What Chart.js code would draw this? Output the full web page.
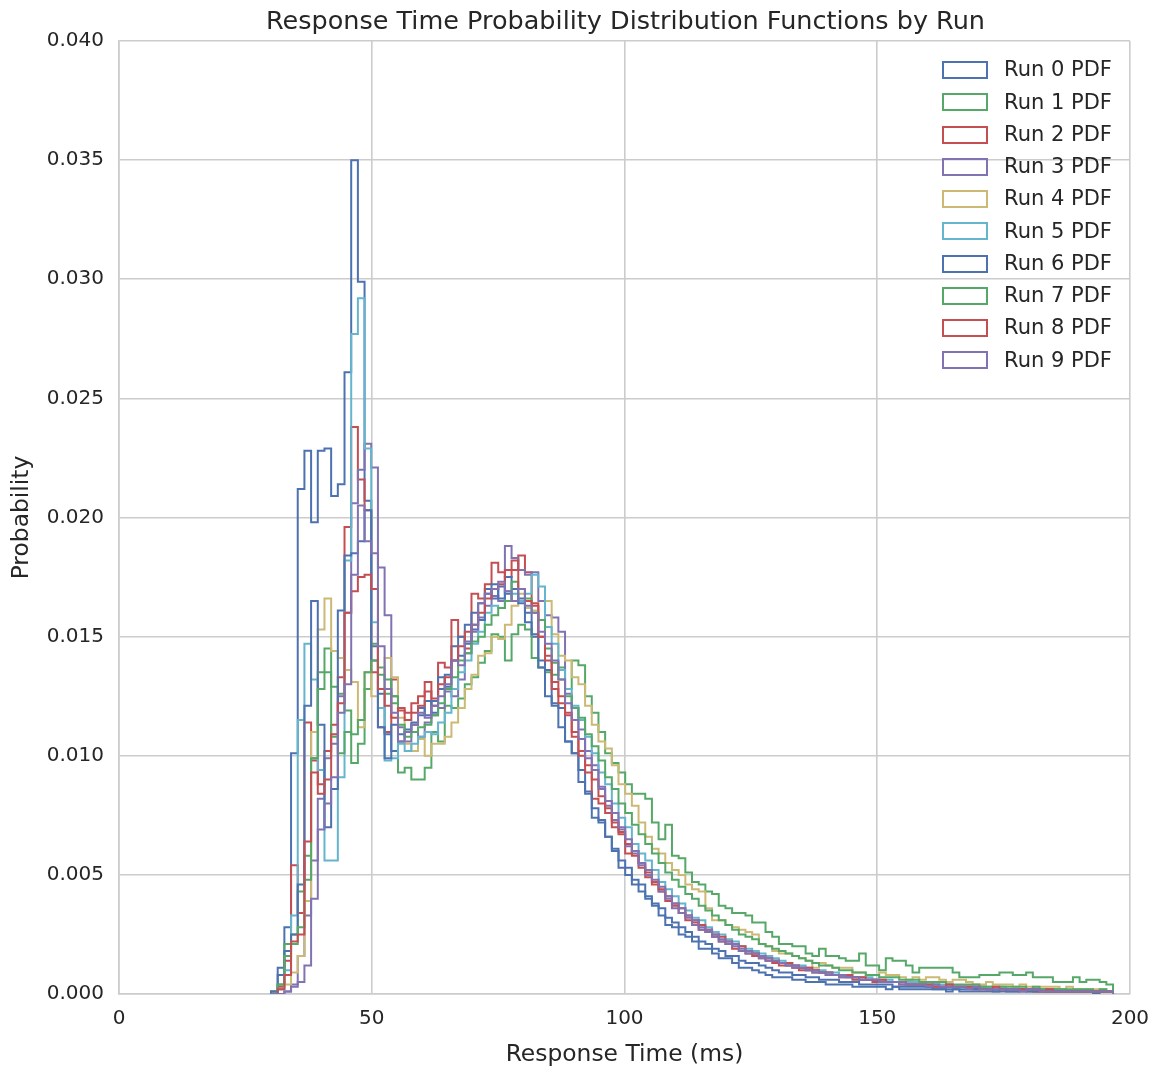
<!DOCTYPE html>
<html>
<head>
<meta charset="utf-8">
<script src="https://cdn.jsdelivr.net/npm/chart.js@4.4.0/dist/chart.umd.min.js"></script>
<style>html,body{margin:0;padding:0;background:#fff;}canvas{display:block;}</style>
</head>
<body>
<canvas id="c" width="1163" height="1069"></canvas>
<script>
// ---- data ----
const TITLE = "Response Time Probability Distribution Functions by Run";
const X_LABEL = "Response Time (ms)";
const Y_LABEL = "Probability";
const BIN_START = 30.07;   // ms, left edge of first bin
const BIN_WIDTH = 1.322;   // ms
const RUN_LABELS = ["Run 0 PDF","Run 1 PDF","Run 2 PDF","Run 3 PDF","Run 4 PDF","Run 5 PDF","Run 6 PDF","Run 7 PDF","Run 8 PDF","Run 9 PDF"];
const RUN_COLORS = ["#4C72B0","#55A868","#C44E52","#8172B2","#CCB974","#64B5CD","#4C72B0","#55A868","#C44E52","#8172B2"];

const run0 = [
0.0001,0.0011,0.0028,0.0101,0.0212,0.0228,0.0198,0.0228,0.0229,0.0209,
0.0214,0.0261,0.0350,0.0299,0.0207,0.0146,0.0126,0.0109,0.0102,0.0106,
0.0110,0.0114,0.0117,0.0123,0.0118,0.0128,0.0134,0.0146,0.0142,0.0155,
0.0153,0.0164,0.0170,0.0166,0.0171,0.0168,0.0165,0.0166,0.0160,0.0150,
0.0140,0.0136,0.0122,0.0120,0.0106,0.0101,0.0094,0.0085,0.0078,0.0073,
0.0066,0.0060,0.0053,0.0050,0.0046,0.0043,0.0040,0.0037,0.0033,0.0029,
0.0028,0.0025,0.0024,0.0022,0.0019,0.0019,0.0017,0.0015,0.0015,0.0013,
0.0011,0.0011,0.0010,0.0009,0.0008,0.0007,0.0007,0.0007,0.0006,0.0006,
0.0005,0.0005,0.0005,0.0004,0.0004,0.0004,0.0004,0.0003,0.0003,0.0003,
0.0003,0.0003,0.0002,0.0003,0.0002,0.0002,0.0002,0.0002,0.0002,0.0002,
0.0002,0.0001,0.0002,0.0001,0.0001,0.0001,0.0001,0.0001,0.0001,0.0001,
0.0001,0.0001,0.0001,0.0001,0.0001,0.0001,0.0001,0.0001,0.0001,0.0001,
0.0001,0.0001,0.0001,0.0000,0.0001,0.0001];

const run1 = [
0.0001,0.0004,0.0021,0.0025,0.0043,0.0058,0.0099,0.0135,0.0145,0.0129,
0.0126,0.0119,0.0097,0.0105,0.0128,0.0147,0.0137,0.0126,0.0122,0.0093,
0.0095,0.0090,0.0090,0.0095,0.0110,0.0106,0.0121,0.0120,0.0124,0.0130,
0.0133,0.0139,0.0144,0.0151,0.0150,0.0140,0.0151,0.0155,0.0153,0.0141,
0.0137,0.0135,0.0134,0.0137,0.0128,0.0140,0.0138,0.0125,0.0118,0.0110,
0.0101,0.0097,0.0093,0.0088,0.0084,0.0084,0.0082,0.0072,0.0065,0.0071,
0.0058,0.0057,0.0051,0.0047,0.0046,0.0043,0.0042,0.0037,0.0036,0.0034,
0.0034,0.0033,0.0030,0.0030,0.0026,0.0024,0.0021,0.0021,0.0020,0.0020,
0.0017,0.0016,0.0019,0.0016,0.0016,0.0015,0.0014,0.0014,0.0017,0.0012,
0.0012,0.0010,0.0015,0.0014,0.0014,0.0012,0.0009,0.0011,0.0011,0.0011,
0.0011,0.0011,0.0009,0.0007,0.0007,0.0007,0.0008,0.0008,0.0008,0.0009,
0.0009,0.0008,0.0008,0.0009,0.0007,0.0007,0.0007,0.0005,0.0005,0.0005,
0.0007,0.0005,0.0006,0.0006,0.0005,0.0004];

const run2 = [
0.0000,0.0003,0.0014,0.0054,0.0034,0.0114,0.0098,0.0088,0.0102,0.0113,
0.0133,0.0196,0.0238,0.0216,0.0203,0.0135,0.0112,0.0110,0.0132,0.0119,
0.0118,0.0122,0.0125,0.0131,0.0121,0.0139,0.0137,0.0157,0.0150,0.0145,
0.0168,0.0166,0.0172,0.0181,0.0177,0.0175,0.0178,0.0184,0.0177,0.0164,
0.0150,0.0142,0.0128,0.0125,0.0118,0.0110,0.0102,0.0093,0.0082,0.0080,
0.0076,0.0070,0.0068,0.0059,0.0060,0.0053,0.0049,0.0046,0.0043,0.0039,
0.0037,0.0034,0.0031,0.0030,0.0027,0.0026,0.0024,0.0022,0.0021,0.0019,
0.0018,0.0017,0.0016,0.0015,0.0014,0.0013,0.0012,0.0012,0.0011,0.0010,
0.0010,0.0009,0.0009,0.0008,0.0008,0.0007,0.0007,0.0006,0.0006,0.0006,
0.0005,0.0005,0.0005,0.0005,0.0004,0.0004,0.0004,0.0004,0.0003,0.0004,
0.0003,0.0003,0.0003,0.0003,0.0003,0.0002,0.0003,0.0002,0.0002,0.0002,
0.0002,0.0002,0.0002,0.0002,0.0001,0.0002,0.0001,0.0001,0.0002,0.0001,
0.0001,0.0001,0.0001,0.0001,0.0001,0.0001];

const run3 = [
0.0000,0.0000,0.0001,0.0004,0.0016,0.0033,0.0056,0.0082,0.0099,0.0105,
0.0125,0.0160,0.0206,0.0220,0.0231,0.0221,0.0179,0.0159,0.0125,0.0112,
0.0106,0.0110,0.0108,0.0114,0.0117,0.0120,0.0127,0.0125,0.0132,0.0143,
0.0152,0.0158,0.0163,0.0167,0.0165,0.0188,0.0183,0.0178,0.0176,0.0177,
0.0165,0.0159,0.0158,0.0152,0.0126,0.0120,0.0111,0.0102,0.0096,0.0087,
0.0079,0.0073,0.0069,0.0062,0.0059,0.0054,0.0050,0.0047,0.0043,0.0040,
0.0036,0.0034,0.0032,0.0029,0.0027,0.0026,0.0024,0.0022,0.0021,0.0020,
0.0018,0.0017,0.0017,0.0015,0.0014,0.0014,0.0013,0.0012,0.0011,0.0011,
0.0010,0.0009,0.0009,0.0008,0.0008,0.0007,0.0007,0.0007,0.0006,0.0006,
0.0006,0.0005,0.0005,0.0005,0.0004,0.0004,0.0004,0.0004,0.0004,0.0003,
0.0003,0.0003,0.0003,0.0003,0.0003,0.0002,0.0003,0.0002,0.0002,0.0002,
0.0002,0.0002,0.0002,0.0002,0.0002,0.0002,0.0001,0.0002,0.0001,0.0001,
0.0001,0.0001,0.0001,0.0001,0.0001,0.0001];

const run4 = [
0.0000,0.0002,0.0004,0.0009,0.0016,0.0039,0.0110,0.0153,0.0166,0.0144,
0.0141,0.0136,0.0131,0.0112,0.0135,0.0125,0.0128,0.0141,0.0133,0.0116,
0.0105,0.0102,0.0107,0.0100,0.0105,0.0105,0.0108,0.0114,0.0120,0.0128,
0.0134,0.0142,0.0143,0.0150,0.0149,0.0155,0.0163,0.0168,0.0162,0.0161,
0.0157,0.0165,0.0151,0.0142,0.0140,0.0133,0.0130,0.0121,0.0113,0.0106,
0.0103,0.0096,0.0088,0.0084,0.0079,0.0072,0.0066,0.0061,0.0059,0.0055,
0.0052,0.0050,0.0046,0.0044,0.0043,0.0036,0.0031,0.0031,0.0029,0.0028,
0.0027,0.0026,0.0025,0.0021,0.0020,0.0018,0.0017,0.0017,0.0016,0.0015,
0.0014,0.0011,0.0013,0.0012,0.0011,0.0011,0.0011,0.0009,0.0009,0.0008,
0.0008,0.0009,0.0008,0.0008,0.0007,0.0006,0.0007,0.0006,0.0007,0.0007,
0.0006,0.0005,0.0006,0.0006,0.0005,0.0004,0.0004,0.0005,0.0004,0.0004,
0.0004,0.0003,0.0004,0.0003,0.0003,0.0003,0.0003,0.0003,0.0002,0.0003,
0.0002,0.0002,0.0002,0.0002,0.0002,0.0001];

const run5 = [
0.0000,0.0002,0.0010,0.0033,0.0115,0.0147,0.0132,0.0094,0.0056,0.0056,
0.0091,0.0182,0.0277,0.0292,0.0229,0.0156,0.0120,0.0098,0.0099,0.0105,
0.0102,0.0105,0.0108,0.0110,0.0109,0.0114,0.0118,0.0128,0.0135,0.0140,
0.0147,0.0152,0.0160,0.0163,0.0162,0.0169,0.0168,0.0165,0.0168,0.0176,
0.0171,0.0154,0.0147,0.0136,0.0128,0.0121,0.0115,0.0108,0.0101,0.0093,
0.0088,0.0080,0.0074,0.0070,0.0063,0.0059,0.0056,0.0052,0.0047,0.0044,
0.0041,0.0038,0.0035,0.0032,0.0031,0.0028,0.0026,0.0025,0.0023,0.0022,
0.0020,0.0019,0.0018,0.0017,0.0016,0.0015,0.0014,0.0013,0.0012,0.0012,
0.0011,0.0010,0.0010,0.0009,0.0009,0.0008,0.0008,0.0007,0.0007,0.0007,
0.0006,0.0006,0.0006,0.0005,0.0005,0.0005,0.0005,0.0004,0.0004,0.0004,
0.0004,0.0004,0.0003,0.0003,0.0003,0.0003,0.0003,0.0003,0.0002,0.0003,
0.0002,0.0002,0.0002,0.0002,0.0002,0.0002,0.0002,0.0001,0.0002,0.0001,
0.0001,0.0001,0.0001,0.0001,0.0001,0.0001];

const run6 = [
0.0001,0.0008,0.0018,0.0025,0.0046,0.0121,0.0165,0.0113,0.0070,0.0086,
0.0161,0.0184,0.0185,0.0190,0.0203,0.0140,0.0112,0.0099,0.0113,0.0109,
0.0111,0.0113,0.0120,0.0117,0.0123,0.0133,0.0129,0.0140,0.0150,0.0147,
0.0160,0.0157,0.0168,0.0172,0.0166,0.0175,0.0170,0.0164,0.0156,0.0151,
0.0137,0.0125,0.0121,0.0112,0.0106,0.0101,0.0089,0.0084,0.0074,0.0072,
0.0066,0.0061,0.0056,0.0053,0.0048,0.0046,0.0041,0.0038,0.0036,0.0032,
0.0030,0.0028,0.0026,0.0024,0.0022,0.0021,0.0019,0.0018,0.0016,0.0016,
0.0014,0.0013,0.0013,0.0012,0.0011,0.0010,0.0009,0.0009,0.0008,0.0008,
0.0007,0.0007,0.0006,0.0006,0.0006,0.0005,0.0005,0.0005,0.0004,0.0004,
0.0004,0.0004,0.0004,0.0003,0.0003,0.0003,0.0003,0.0003,0.0003,0.0002,
0.0002,0.0002,0.0002,0.0002,0.0002,0.0002,0.0002,0.0002,0.0001,0.0002,
0.0001,0.0001,0.0002,0.0001,0.0001,0.0001,0.0001,0.0001,0.0001,0.0001,
0.0001,0.0001,0.0001,0.0001,0.0001,0.0001];

const run7 = [
0.0000,0.0004,0.0016,0.0021,0.0028,0.0048,0.0099,0.0128,0.0135,0.0108,
0.0101,0.0110,0.0109,0.0115,0.0135,0.0140,0.0134,0.0132,0.0125,0.0113,
0.0108,0.0110,0.0112,0.0113,0.0117,0.0122,0.0128,0.0133,0.0140,0.0143,
0.0148,0.0150,0.0155,0.0159,0.0162,0.0165,0.0173,0.0170,0.0166,0.0160,
0.0157,0.0145,0.0139,0.0132,0.0125,0.0120,0.0116,0.0109,0.0104,0.0098,
0.0091,0.0086,0.0080,0.0076,0.0071,0.0067,0.0063,0.0059,0.0055,0.0051,
0.0048,0.0045,0.0042,0.0040,0.0037,0.0035,0.0033,0.0031,0.0029,0.0027,
0.0025,0.0024,0.0023,0.0021,0.0020,0.0019,0.0018,0.0017,0.0016,0.0015,
0.0014,0.0013,0.0012,0.0012,0.0011,0.0010,0.0010,0.0009,0.0009,0.0008,
0.0008,0.0007,0.0007,0.0007,0.0006,0.0006,0.0006,0.0005,0.0005,0.0005,
0.0005,0.0004,0.0004,0.0004,0.0004,0.0004,0.0003,0.0003,0.0003,0.0003,
0.0003,0.0003,0.0003,0.0002,0.0003,0.0002,0.0002,0.0002,0.0002,0.0002,
0.0002,0.0002,0.0002,0.0001,0.0002,0.0001];

const run8 = [
0.0000,0.0002,0.0008,0.0022,0.0025,0.0064,0.0093,0.0084,0.0090,0.0109,
0.0122,0.0160,0.0169,0.0175,0.0176,0.0170,0.0128,0.0121,0.0116,0.0120,
0.0115,0.0118,0.0121,0.0127,0.0124,0.0130,0.0133,0.0140,0.0146,0.0152,
0.0155,0.0160,0.0166,0.0170,0.0172,0.0178,0.0182,0.0170,0.0165,0.0163,
0.0150,0.0140,0.0131,0.0122,0.0117,0.0108,0.0100,0.0096,0.0090,0.0083,
0.0078,0.0072,0.0067,0.0063,0.0058,0.0055,0.0051,0.0047,0.0044,0.0041,
0.0038,0.0036,0.0033,0.0031,0.0029,0.0027,0.0025,0.0024,0.0022,0.0021,
0.0020,0.0018,0.0017,0.0016,0.0015,0.0014,0.0013,0.0013,0.0012,0.0011,
0.0011,0.0010,0.0009,0.0009,0.0008,0.0008,0.0008,0.0007,0.0007,0.0006,
0.0006,0.0006,0.0005,0.0005,0.0005,0.0004,0.0004,0.0004,0.0004,0.0003,
0.0003,0.0004,0.0003,0.0003,0.0003,0.0003,0.0002,0.0002,0.0003,0.0002,
0.0002,0.0002,0.0002,0.0002,0.0002,0.0001,0.0002,0.0001,0.0001,0.0001,
0.0001,0.0001,0.0001,0.0001,0.0001,0.0001];

const run9 = [
0.0000,0.0000,0.0001,0.0003,0.0005,0.0012,0.0040,0.0069,0.0080,0.0091,
0.0118,0.0130,0.0176,0.0205,0.0190,0.0185,0.0146,0.0128,0.0118,0.0106,
0.0110,0.0113,0.0118,0.0116,0.0121,0.0125,0.0130,0.0140,0.0138,0.0148,
0.0155,0.0164,0.0168,0.0170,0.0173,0.0169,0.0165,0.0170,0.0163,0.0160,
0.0152,0.0147,0.0140,0.0132,0.0122,0.0115,0.0107,0.0099,0.0094,0.0086,
0.0081,0.0076,0.0070,0.0065,0.0060,0.0055,0.0052,0.0048,0.0045,0.0041,
0.0038,0.0036,0.0033,0.0031,0.0028,0.0027,0.0025,0.0023,0.0022,0.0021,
0.0019,0.0018,0.0017,0.0016,0.0015,0.0014,0.0013,0.0012,0.0012,0.0011,
0.0010,0.0010,0.0009,0.0009,0.0008,0.0008,0.0007,0.0007,0.0006,0.0006,
0.0006,0.0005,0.0005,0.0005,0.0005,0.0004,0.0004,0.0004,0.0003,0.0004,
0.0003,0.0003,0.0003,0.0003,0.0002,0.0003,0.0002,0.0002,0.0002,0.0002,
0.0002,0.0002,0.0001,0.0002,0.0002,0.0001,0.0001,0.0001,0.0001,0.0001,
0.0001,0.0001,0.0001,0.0001,0.0001,0.0001];

const RUNS = [run0, run1, run2, run3, run4, run5, run6, run7, run8, run9];
const X_TICKS = [0, 50, 100, 150, 200];
const Y_TICKS = [0, 0.005, 0.010, 0.015, 0.020, 0.025, 0.030, 0.035, 0.040];

// ---- build ----
RUNS.forEach((r, i) => { if (r.length !== 126) throw new Error('run' + i + ' length ' + r.length); });

function stepPoints(vals) {
  const pts = [{x: BIN_START, y: 0}];
  vals.forEach((v, i) => pts.push({x: BIN_START + i * BIN_WIDTH, y: v}));
  pts.push({x: BIN_START + vals.length * BIN_WIDTH, y: 0});
  return pts;
}

const TEXT = '#262626';
const GRID = '#cccccc';
const FONT = "'DejaVu Sans', sans-serif";

const datasets = RUNS.map((vals, i) => ({
  label: RUN_LABELS[i],
  data: stepPoints(vals),
  borderColor: RUN_COLORS[i],
  backgroundColor: RUN_COLORS[i],
  borderWidth: 2,
  pointRadius: 0,
  fill: false,
  stepped: true,
  order: RUNS.length - i
}));

const overlay = {
  id: 'overlay',
  afterDraw(chart) {
    const ctx = chart.ctx, ca = chart.chartArea;
    ctx.save();
    ctx.fillStyle = TEXT;
    ctx.font = "25.5px " + FONT;
    ctx.textAlign = 'center';
    ctx.textBaseline = 'middle';
    ctx.fillText(TITLE, (ca.left + ca.right) / 2 + 1, 22);
    // legend
    ctx.font = "21px " + FONT;
    ctx.textAlign = 'left';
    RUN_LABELS.forEach((lab, i) => {
      const y = ca.top + 29 + i * 32.25;
      ctx.strokeStyle = RUN_COLORS[i];
      ctx.lineWidth = 2;
      ctx.strokeRect(ca.right - 187, Math.round(y) - 8, 44, 16);
      ctx.fillStyle = TEXT;
      ctx.fillText(lab, ca.right - 126, y + 1);
    });
    ctx.restore();
  }
};

new Chart(document.getElementById('c'), {
  type: 'line',
  data: { datasets },
  options: {
    responsive: false,
    animation: false,
    layout: { padding: { top: 41, right: 33, bottom: 0, left: 0 } },
    plugins: { legend: { display: false }, title: { display: false }, tooltip: { enabled: false } },
    scales: {
      x: {
        type: 'linear', min: X_TICKS[0], max: X_TICKS[X_TICKS.length - 1],
        afterBuildTicks: s => { s.ticks = X_TICKS.map(v => ({value: v})); },
        ticks: { color: TEXT, font: { family: FONT, size: 20 }, padding: 13, callback: v => String(v) },
        grid: { color: GRID, lineWidth: 1.6, drawTicks: false },
        border: { display: true, color: GRID, width: 1.6 },
        title: { display: true, text: X_LABEL, color: TEXT, font: { family: FONT, size: 23.4 }, padding: { top: 3, bottom: 0 } },
        afterFit: s => { s.height = 75; }
      },
      y: {
        type: 'linear', min: Y_TICKS[0], max: Y_TICKS[Y_TICKS.length - 1],
        afterBuildTicks: s => { s.ticks = Y_TICKS.map(v => ({value: v})); },
        ticks: { color: TEXT, font: { family: FONT, size: 20 }, padding: 15, callback: v => Number(v).toFixed(3) },
        grid: { color: GRID, lineWidth: 1.6, drawTicks: false },
        border: { display: true, color: GRID, width: 1.6 },
        title: { display: true, text: Y_LABEL, color: TEXT, font: { family: FONT, size: 23.4 }, padding: { top: 8, bottom: 0 } },
        afterFit: s => { s.width = 119; }
      }
    }
  },
  plugins: [overlay]
});
</script>
</body>
</html>
